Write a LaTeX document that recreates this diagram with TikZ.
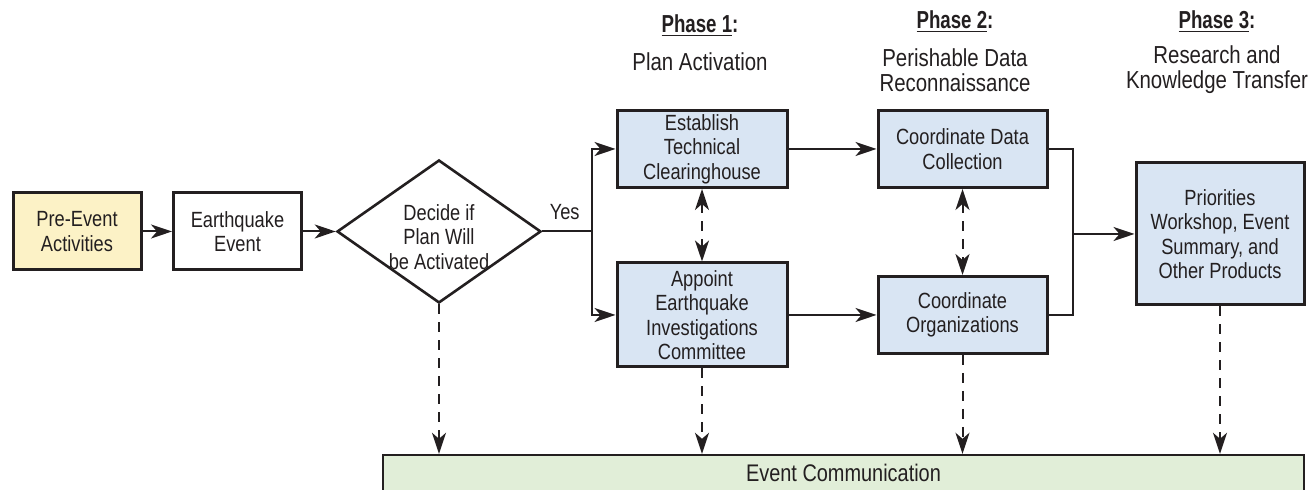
\documentclass[tikz,border=0pt]{standalone}
\usepackage{fontspec}
\setmainfont{Liberation Sans}[FakeStretch=0.83, BoldFeatures={FakeStretch=0.76}]
\usetikzlibrary{arrows.meta,shapes.geometric}
\definecolor{txt}{HTML}{231F20}
\definecolor{bluefill}{HTML}{D9E5F3}
\definecolor{yellowfill}{HTML}{FCF2C6}
\definecolor{greenfill}{HTML}{E1EED8}
\newcommand\boxfont{\fontsize{11}{12.2}\selectfont}
\newcommand\barfont{\fontsize{12}{13}\selectfont}
\newcommand\phasefont{\fontsize{12.3}{12.6}\selectfont}
\begin{document}
\begin{tikzpicture}[x=0.5pt,y=-0.5pt,
  box/.style={draw=txt, line width=1.5pt, minimum width=64pt, minimum height=38.5pt,
    inner sep=1pt, align=center, font=\boxfont, text=txt},
  bluebox/.style={box, fill=bluefill, minimum width=85pt},
  arr/.style={-{Stealth[length=10.5pt,width=7pt,inset=3pt]}, line width=1pt, draw=txt},
  plain/.style={line width=1pt, draw=txt},
  darr/.style={arr, dash pattern=on 5pt off 4pt},
  dbl/.style={{Stealth[length=10.5pt,width=7pt,inset=3pt]}-{Stealth[length=10.5pt,width=7pt,inset=3pt]},
    line width=1pt, draw=txt, dash pattern=on 5pt off 4pt},
  phase/.style={align=center, font=\phasefont, text=txt, inner sep=0pt}
]
\useasboundingbox (0,0) rectangle (1314,490);

% phase headers
\node[phase] (ph1) at (700,26) {\textbf{\underline{Phase 1}:}};
\node[phase] (ph1t) at (700,62) {Plan Activation};
\node[phase] (ph2) at (955,22) {\textbf{\underline{Phase 2}:}};
\node[phase] (ph2t) at (955,70) {Perishable Data\\Reconnaissance};
\node[phase] (ph3) at (1217,22) {\textbf{\underline{Phase 3}:}};
\node[phase] (ph3t) at (1217,70) {Research and\\Knowledge Transfer};

% nodes
\node[box, fill=yellowfill] (pre) at (77,231.5) {Pre-Event\\Activities};
\node[box, fill=white] (eq) at (237.5,231.5) {Earthquake\\Event};
\node[draw=txt, line width=1.3pt, diamond, fill=white, minimum width=102pt,
  minimum height=71.5pt, inner sep=0pt] (dec) at (439,231.5) {};
\node[align=center, font=\boxfont, text=txt, inner sep=0pt] (dect) at (439,237) {Decide if\\Plan Will\\be Activated};

\node[bluebox] (est) at (702,149) {Establish\\Technical\\Clearinghouse};
\node[bluebox, minimum height=52pt] (app) at (702,315) {Appoint\\Earthquake\\Investigations\\Committee};
\node[bluebox, minimum width=84.5pt] (cdc) at (962.5,149) {Coordinate Data\\Collection};
\node[bluebox, minimum width=84.5pt] (cor) at (962.5,315) {Coordinate\\Organizations};
\node[bluebox, minimum width=84pt, minimum height=71pt] (pri) at (1220,234) {Priorities\\Workshop, Event\\Summary, and\\Other Products};

\node[draw=txt, line width=1.2pt, fill=greenfill, minimum width=460.5pt, minimum height=18pt,
  inner sep=0pt, font=\barfont, text=txt] (bar) at (843.5,473) {Event Communication};

% connectors
\draw[arr] (pre.east) -- (eq.west);
\draw[arr] (eq.east) -- (dec.west);
\coordinate (yj) at (592,231.5);
\draw[plain] (dec.east) -- node[above, font=\boxfont, text=txt, pos=0.45, yshift=2pt] (yes) {Yes} (yj);
\draw[arr] (yj) |- (est.west);
\draw[arr] (yj) |- (app.west);
\draw[arr] (est.east) -- (cdc.west);
\draw[arr] (app.east) -- (cor.west);
\coordinate (br) at (1073,234);
\draw[plain] (cdc.east) -| (br) |- (cor.east);
\draw[arr] (br) -- (pri.west);

\draw[dbl] (est.south) -- (app.north);
\draw[dbl] (cdc.south) -- (cor.north);

\draw[darr] (dec.south) -- (dec.south |- bar.north);
\draw[darr] (app.south) -- (app.south |- bar.north);
\draw[darr] (cor.south) -- (cor.south |- bar.north);
\draw[darr] (pri.south) -- (pri.south |- bar.north);
\end{tikzpicture}
\end{document}
